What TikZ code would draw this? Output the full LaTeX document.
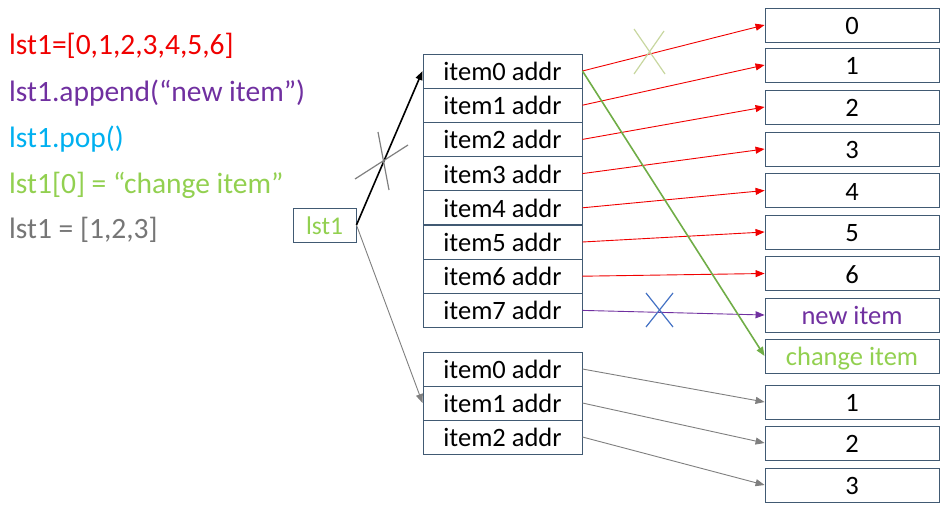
\documentclass[tikz,border=0pt]{standalone}
\usepackage{fontspec}
\setmainfont{Carlito}
\usetikzlibrary{arrows.meta}
\definecolor{bx}{RGB}{65,90,115}
\definecolor{cred}{RGB}{240,0,0}
\definecolor{cpur}{RGB}{112,48,160}
\definecolor{ccyan}{RGB}{0,176,240}
\definecolor{cgrn}{RGB}{146,208,80}
\definecolor{cgrnd}{RGB}{112,173,71}
\definecolor{cgray}{RGB}{127,127,127}
\definecolor{cgtxt}{RGB}{118,118,118}
\definecolor{clight}{RGB}{200,215,160}
\definecolor{cblue}{RGB}{68,114,196}
\begin{document}
\begin{tikzpicture}[x=1pt,y=-1pt,
  cell/.style={draw=bx,line width=0.9pt,minimum width=159pt,minimum height=34pt,inner sep=0pt,text height=19pt,text depth=0pt,font=\fontsize{26.5}{30}\selectfont},
  val/.style={cell,minimum width=174pt},
  code/.style={anchor=base west,inner sep=0pt,font=\fontsize{29.5}{34}\selectfont},
  tip/.style={-{Triangle[length=9pt,width=7pt]}},
  thin/.style={line width=0.9pt},
  xline/.style={line width=1.2pt}]
\useasboundingbox (0,0) rectangle (945,511);
% code lines
\node[code,text=cred]  (c1) at (9,55)  {lst1=[0,1,2,3,4,5,6]};
\node[code,text=cpur]  (c2) at (9,101) {lst1.append(“new item”)};
\node[code,text=ccyan] (c3) at (9,147) {lst1.pop()};
\node[code,text=cgrn]  (c4) at (9,193) {lst1[0] = “change item”};
\node[code,text=cgtxt] (c5) at (9,238) {lst1 = [1,2,3]};
% lst1 variable
\node[cell,minimum width=63pt,text=cgrn,font=\fontsize{25.5}{30}\selectfont] (v) at (324.5,225) {lst1};
% first list
\foreach \i in {0,...,7}{
  \node[cell] (a\i) at (502.5,{71+34.2*\i}) {item\i{} addr};
}
% second list
\foreach \i in {0,1,2}{
  \node[cell] (b\i) at (502.5,{369+34*\i}) {item\i{} addr};
}
% values
\node[val] (r0) at (852,25)    {0};
\node[val] (r1) at (852,65)    {1};
\node[val] (r2) at (852,107)   {2};
\node[val] (r3) at (852,149)   {3};
\node[val] (r4) at (852,190.5) {4};
\node[val] (r5) at (852,232)   {5};
\node[val] (r6) at (852,273.5) {6};
\node[val,text=cpur] (rn) at (852,315) {new item};
\node[val,text=cgrn] (rc) at (852,356) {change item};
\node[val] (s1) at (852,402) {1};
\node[val] (s2) at (852,443) {2};
\node[val] (s3) at (852,485) {3};
% arrows
\draw[tip,line width=1.6pt,black] (v.east) -- (a0.west);
\draw[tip,thin,cgray] (v.east) -- (b1.west);
\foreach \i in {0,...,6}{
  \draw[tip,thin,cred] (a\i.east) -- (r\i.west);
}
\draw[tip,thin,cpur] (a7.east) -- (rn.west);
\draw[tip,line width=1.6pt,cgrnd] (a0.east) -- (rc.west);
\draw[tip,thin,cgray] (b0.east) -- (s1.west);
\draw[tip,thin,cgray] (b1.east) -- (s2.west);
\draw[tip,thin,cgray] (b2.east) -- (s3.west);
% crosses
\draw[xline,cgray] (378,132) -- (389,190);
\draw[xline,cgray] (355,179) -- (408,145);
\draw[xline,clight] (634,29) -- (665,74);
\draw[xline,clight] (664,31) -- (634,74);
\draw[xline,cblue] (646,293) -- (673,327);
\draw[xline,cblue] (673,293) -- (646,327);
\end{tikzpicture}
\end{document}
